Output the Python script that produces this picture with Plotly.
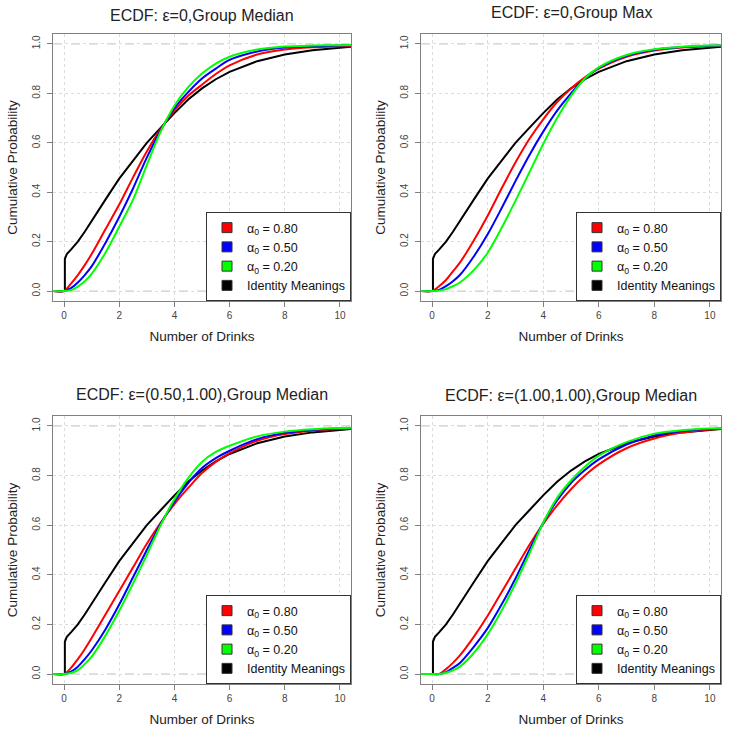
import plotly.graph_objects as go

# ---------------- data ----------------
X_GRID = [-0.4, 0, 0.25, 0.5, 0.75, 1, 1.5, 2, 2.5, 3, 3.5, 4, 4.5, 5, 5.5, 6, 7, 8, 9, 10, 10.4]

X_IDENTITY = [-0.4, 0.03, 0.03, 0.1, 0.25, 0.5, 0.75, 1, 1.5, 2, 2.5, 3, 3.5, 4, 4.5, 5, 5.5, 6, 7, 8, 9, 10, 10.4]
IDENTITY = [0, 0, 0.13, 0.15, 0.168, 0.2, 0.24, 0.285, 0.37, 0.455, 0.53, 0.6, 0.66, 0.72, 0.775, 0.82, 0.857, 0.887, 0.93, 0.957, 0.974, 0.985, 0.988]

P1_A80 = [0, 0, 0.03, 0.065, 0.105, 0.15, 0.25, 0.35, 0.46, 0.565, 0.655, 0.73, 0.79, 0.835, 0.878, 0.913, 0.957, 0.977, 0.986, 0.99, 0.991]
P1_A50 = [0, 0, 0.012, 0.035, 0.065, 0.1, 0.195, 0.3, 0.415, 0.54, 0.65, 0.74, 0.805, 0.86, 0.9, 0.935, 0.969, 0.985, 0.99, 0.993, 0.994]
P1_A20 = [0, 0, 0.004, 0.018, 0.04, 0.07, 0.155, 0.26, 0.37, 0.51, 0.645, 0.75, 0.825, 0.88, 0.92, 0.948, 0.977, 0.989, 0.993, 0.995, 0.996]

P2_A80 = [0, 0, 0.02, 0.045, 0.08, 0.115, 0.205, 0.305, 0.415, 0.52, 0.615, 0.695, 0.765, 0.82, 0.865, 0.9, 0.948, 0.973, 0.985, 0.99, 0.992]
P2_A50 = [0, 0, 0.005, 0.02, 0.04, 0.065, 0.14, 0.23, 0.335, 0.445, 0.55, 0.645, 0.73, 0.8, 0.86, 0.903, 0.952, 0.976, 0.987, 0.992, 0.993]
P2_A20 = [0, 0, 0.002, 0.008, 0.02, 0.035, 0.085, 0.155, 0.255, 0.365, 0.48, 0.595, 0.7, 0.79, 0.86, 0.905, 0.955, 0.978, 0.988, 0.993, 0.994]

P3_A80 = [0, 0, 0.025, 0.06, 0.1, 0.145, 0.24, 0.335, 0.43, 0.525, 0.61, 0.685, 0.75, 0.81, 0.855, 0.89, 0.94, 0.967, 0.981, 0.988, 0.99]
P3_A50 = [0, 0, 0.01, 0.03, 0.06, 0.095, 0.18, 0.28, 0.39, 0.5, 0.605, 0.695, 0.77, 0.83, 0.87, 0.9, 0.947, 0.972, 0.984, 0.99, 0.991]
P3_A20 = [0, 0, 0.004, 0.016, 0.04, 0.07, 0.155, 0.255, 0.365, 0.48, 0.6, 0.705, 0.79, 0.855, 0.895, 0.92, 0.958, 0.977, 0.987, 0.992, 0.993]

P4_A80 = [0, 0, 0, 0.02, 0.045, 0.075, 0.15, 0.235, 0.33, 0.425, 0.52, 0.605, 0.68, 0.745, 0.8, 0.845, 0.91, 0.949, 0.973, 0.986, 0.989]
P4_A50 = [0, 0, 0, 0.008, 0.025, 0.045, 0.11, 0.185, 0.28, 0.385, 0.5, 0.61, 0.7, 0.77, 0.822, 0.865, 0.925, 0.962, 0.98, 0.988, 0.99]
P4_A20 = [0, 0, 0, 0.005, 0.015, 0.03, 0.085, 0.16, 0.255, 0.365, 0.485, 0.61, 0.71, 0.78, 0.835, 0.88, 0.935, 0.969, 0.983, 0.99, 0.991]

TITLES = ["ECDF: \u03b5=0,Group Median", "ECDF: \u03b5=0,Group Max",
          "ECDF: \u03b5=(0.50,1.00),Group Median", "ECDF: \u03b5=(1.00,1.00),Group Median"]
SERIES_NAMES = ["\u03b1<sub>0</sub> = 0.80", "\u03b1<sub>0</sub> = 0.50", "\u03b1<sub>0</sub> = 0.20", "Identity Meanings"]
COLORS = ["#FF0000", "#0000FF", "#00FF00", "#000000"]
PANELS = [(P1_A80, P1_A50, P1_A20), (P2_A80, P2_A50, P2_A20),
          (P3_A80, P3_A50, P3_A20), (P4_A80, P4_A50, P4_A20)]
X_TICKS = [0, 2, 4, 6, 8, 10]
Y_TICKS = [0.0, 0.2, 0.4, 0.6, 0.8, 1.0]

# ---------------- layout geometry (page pixels) ----------------
W, H = 746, 741
PL, PR, PT, PB = 53, 721, 34, 684          # plot-area extent in page pixels
ML, MR, MT, MB = PL, W - PR, PT, H - PB
PW, PH = PR - PL, PB - PT

def xd(a, b):
    return [(a - PL) / PW, (b - PL) / PW]

def yd(top, bot):
    return [(PB - bot) / PH, (PB - top) / PH]

X_DOM = [xd(53, 351), xd(421, 721)]
Y_DOM = [yd(34, 301), yd(416, 684)]
TITLE_Y = [15, 13, 394, 396]

FONT = "Liberation Sans, Arial, sans-serif"
fig = go.Figure()

for p in range(4):
    r, c = divmod(p, 2)
    ax = "" if p == 0 else str(p + 1)
    xa, ya = "x" + ax, "y" + ax
    lg = "legend" if p == 0 else "legend" + str(p + 1)
    fig.add_trace(go.Scatter(x=X_IDENTITY, y=IDENTITY, mode="lines",
                             line=dict(color=COLORS[3], width=2),
                             xaxis=xa, yaxis=ya, showlegend=False, hoverinfo="skip"))
    for k in range(3):
        fig.add_trace(go.Scatter(x=X_GRID, y=PANELS[p][k], mode="lines",
                                 line=dict(color=COLORS[k], width=2, shape="spline", smoothing=0.8),
                                 xaxis=xa, yaxis=ya, showlegend=False, hoverinfo="skip"))
    for k in range(4):
        fig.add_trace(go.Scatter(x=[None], y=[None], mode="markers", name=SERIES_NAMES[k],
                                 marker=dict(symbol="square", size=10, color=COLORS[k],
                                             line=dict(color="#333333", width=1)),
                                 xaxis=xa, yaxis=ya, legend=lg, showlegend=True))

    axis_common = dict(showline=True, mirror=True, linecolor="#808080", linewidth=1,
                       ticks="outside", ticklen=5, tickcolor="#808080",
                       showgrid=True, gridcolor="#dcdcdc", griddash="dot", gridwidth=1,
                       zeroline=False, tickfont=dict(family=FONT, size=10, color="#444444"))
    fig.layout["xaxis" + ax] = dict(axis_common, domain=X_DOM[c], anchor=ya,
                                    range=[-0.4, 10.4], tickvals=X_TICKS,
                                    title=dict(text="Number of Drinks", standoff=11,
                                               font=dict(family=FONT, size=13.5, color="#222222")))
    fig.layout["yaxis" + ax] = dict(axis_common, domain=Y_DOM[r], anchor=xa,
                                    range=[-0.04, 1.04], tickvals=Y_TICKS, tickformat=".1f",
                                    tickangle=-90, ticklabelstandoff=3,
                                    title=dict(text="Cumulative Probability", standoff=10,
                                               font=dict(family=FONT, size=13.5, color="#222222")))
    for yy in (0, 1):
        fig.add_shape(type="line", xref=xa + " domain", yref=ya, x0=0, x1=1, y0=yy, y1=yy,
                      line=dict(color="#bdbdbd", width=1, dash="dash"), layer="below")
    fig.add_annotation(text=TITLES[p], xref="paper", yref="paper",
                       x=(X_DOM[c][0] + X_DOM[c][1]) / 2, y=(PB - TITLE_Y[p]) / PH,
                       xanchor="center", yanchor="middle", showarrow=False,
                       font=dict(family=FONT, size=16, color="#222222"))
    fig.layout[lg] = dict(x=X_DOM[c][1], y=Y_DOM[r][0], xanchor="right", yanchor="bottom",
                          bgcolor="white", bordercolor="#333333", borderwidth=1,
                          font=dict(family=FONT, size=12.5, color="#111111"),
                          tracegroupgap=0, itemwidth=30)

fig.update_layout(width=W, height=H, margin=dict(l=ML, r=MR, t=MT, b=MB),
                  plot_bgcolor="white", paper_bgcolor="white", showlegend=True)
fig.write_html("out.html", config={"displayModeBar": False},
               post_script="document.body.style.margin='0px';")
